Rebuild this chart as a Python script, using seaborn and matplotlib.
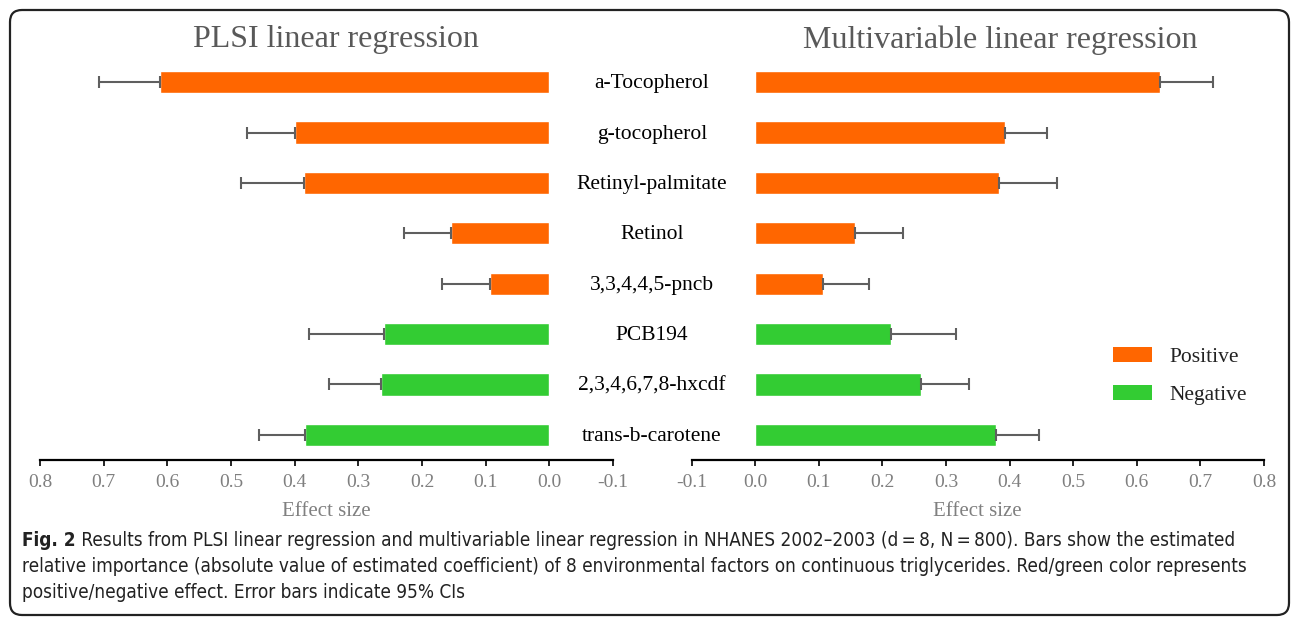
import numpy as np
import pandas as pd
import matplotlib
matplotlib.use("Agg")
import matplotlib.pyplot as plt
import seaborn as sns
from matplotlib import font_manager
from matplotlib.patches import FancyBboxPatch, Patch
from matplotlib.transforms import blended_transform_factory, IdentityTransform

# ---------------- data ----------------
categories = ["a-Tocopherol", "g-tocopherol", "Retinyl-palmitate", "Retinol",
              "3,3,4,4,5-pncb", "PCB194", "2,3,4,6,7,8-hxcdf", "trans-b-carotene"]
direction = ["Positive", "Positive", "Positive", "Positive", "Positive",
             "Negative", "Negative", "Negative"]
plsi_est = [0.612, 0.400, 0.386, 0.154, 0.093, 0.259, 0.265, 0.383]
plsi_upper = [0.707, 0.475, 0.485, 0.229, 0.168, 0.378, 0.346, 0.456]
mlr_est = [0.637, 0.393, 0.384, 0.157, 0.106, 0.214, 0.260, 0.378]
mlr_upper = [0.720, 0.459, 0.475, 0.232, 0.179, 0.315, 0.336, 0.446]
x_ticks = [-0.1, 0.0, 0.1, 0.2, 0.3, 0.4, 0.5, 0.6, 0.7, 0.8]
x_tick_labels = ["-0.1", "0.0", "0.1", "0.2", "0.3", "0.4", "0.5", "0.6", "0.7", "0.8"]
titles = ["PLSI linear regression", "Multivariable linear regression"]
x_label = "Effect size"
legend_labels = ["Positive", "Negative"]
caption_bold = "Fig. 2"
caption_lines = [
    " Results from PLSI linear regression and multivariable linear regression in NHANES 2002\u20132003 (d\u2009=\u20098, N\u2009=\u2009800). Bars show the estimated",
    "relative importance (absolute value of estimated coefficient) of 8 environmental factors on continuous triglycerides. Red/green color represents",
    "positive/negative effect. Error bars indicate 95% CIs",
]

palette = {"Positive": "#FF6600", "Negative": "#33CC33"}

sns.set_style("white")
plt.rcParams["font.family"] = ["Liberation Serif", "DejaVu Serif"]

W, H = 1296, 617
fig = plt.figure(figsize=(W / 100, H / 100), dpi=100)
fig.patch.set_facecolor("white")

df = pd.DataFrame({"cat": categories, "dir": direction,
                   "plsi": plsi_est, "plsi_up": plsi_upper,
                   "mlr": mlr_est, "mlr_up": mlr_upper})

ax_top, ax_bot = 57, 460
axL = fig.add_axes([40 / W, 1 - ax_bot / H, 573 / W, (ax_bot - ax_top) / H])
axR = fig.add_axes([691.6 / W, 1 - ax_bot / H, 572.4 / W, (ax_bot - ax_top) / H])

tick_color = "#7f7f7f"
for ax, col, up, rev in [(axL, "plsi", "plsi_up", True), (axR, "mlr", "mlr_up", False)]:
    sns.barplot(data=df, x=col, y="cat", hue="dir", palette=palette, dodge=False,
                width=0.44, saturation=1, legend=False, ax=ax, order=categories,
                hue_order=["Positive", "Negative"], errorbar=None)
    est = df[col].to_numpy()
    err = df[up].to_numpy() - est
    ax.errorbar(est, np.arange(len(categories)), xerr=[np.zeros_like(err), err],
                fmt="none", ecolor="#5f5f5f", elinewidth=1.5, capsize=4.5,
                capthick=1.5, zorder=3)
    if rev:
        ax.set_xlim(0.8, -0.1)
    else:
        ax.set_xlim(-0.1, 0.8)
    ax.set_ylim(len(categories) - 0.5, -0.5)
    ax.set_xticks(x_ticks)
    ax.set_xticklabels(x_tick_labels)
    ax.set_yticks([])
    ax.set_ylabel("")
    ax.set_xlabel(x_label, fontsize=15, color="#808080", labelpad=8)
    for s in ["top", "left", "right"]:
        ax.spines[s].set_visible(False)
    ax.spines["bottom"].set_color("black")
    ax.spines["bottom"].set_linewidth(1.6)
    ax.tick_params(axis="x", direction="out", length=4, width=1.2, color="black",
                   labelsize=14, labelcolor=tick_color, pad=6, bottom=True)
    ax.set_facecolor("none")

# category labels between the panels
trans = blended_transform_factory(fig.transFigure, axL.transData)
for i, c in enumerate(categories):
    axL.text(652 / W, i + 0.03, c, transform=trans, ha="center", va="center",
             fontsize=15.5, color="black", clip_on=False)

# panel titles
fig.text(336 / W, 1 - 40 / H, titles[0], ha="center", va="center", fontsize=23, color="#595959")
fig.text(1000 / W, 1 - 40 / H, titles[1], ha="center", va="center", fontsize=23, color="#595959")

# legend
handles = [Patch(facecolor=palette[k], edgecolor="none") for k in legend_labels]
fig.legend(handles, legend_labels, loc="upper left",
           bbox_to_anchor=(1113 / W, 1 - 347 / H), frameon=False,
           fontsize=15.5, handlelength=1.8, handleheight=0.7, handletextpad=0.8,
           labelspacing=0.85, borderpad=0, borderaxespad=0,
           labelcolor="#222222")

# rounded border
border = FancyBboxPatch((10, 2), 1279, 605, boxstyle="round,pad=0,rounding_size=12",
                        transform=IdentityTransform(), facecolor="none",
                        edgecolor="#222222", linewidth=1.6)
fig.add_artist(border)

# caption font choice
names = {(f.name, str(f.stretch)) for f in font_manager.fontManager.ttflist}
fam_names = {n for n, _ in names}
cap_kwargs = {}
if "Liberation Sans Narrow" in fam_names:
    cap_kwargs = dict(family=["Liberation Sans Narrow", "DejaVu Sans"])
elif any(n == "DejaVu Sans" and s in ("condensed", "semi-condensed") for n, s in names):
    cap_kwargs = dict(family=["DejaVu Sans"], fontstretch="condensed")
else:
    cap_kwargs = dict(family=["Open Sans", "DejaVu Sans"])

fig.canvas.draw()
renderer = fig.canvas.get_renderer()
probe = fig.text(0, 0, caption_lines[1], fontsize=12, **cap_kwargs)
wpx = probe.get_window_extent(renderer).width
probe.remove()
cap_size = 12 * (1228 / wpx)
cap_color = "#222222"

x0 = 22
ys = [541, 567, 593]
tb = fig.text(x0 / W, 1 - ys[0] / H, caption_bold, fontsize=cap_size, fontweight="bold",
              va="center", ha="left", color=cap_color, **cap_kwargs)
fig.canvas.draw()
bw = tb.get_window_extent(renderer).width
fig.text((x0 + bw) / W, 1 - ys[0] / H, caption_lines[0], fontsize=cap_size,
         va="center", ha="left", color=cap_color, **cap_kwargs)
for line, y in zip(caption_lines[1:], ys[1:]):
    fig.text(x0 / W, 1 - y / H, line, fontsize=cap_size, va="center", ha="left",
             color=cap_color, **cap_kwargs)

fig.savefig("out.png", dpi=100)
